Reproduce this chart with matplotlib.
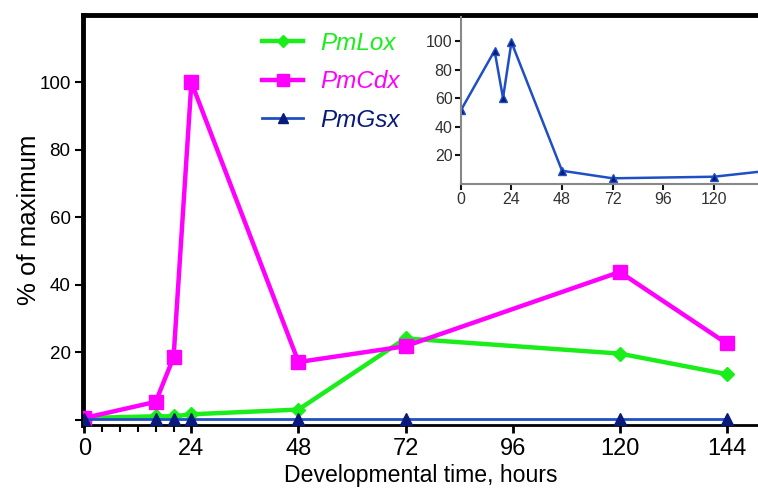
import matplotlib
matplotlib.use("Agg")
import matplotlib.pyplot as plt
from matplotlib.ticker import FixedLocator

plt.rcParams['font.family'] = ['Liberation Sans', 'DejaVu Sans']

hours = [0, 16, 20, 24, 48, 72, 120, 144]
pm_lox = [0.5, 1.0, 1.0, 1.6, 3.0, 24.1, 19.6, 13.5]
pm_cdx = [0.5, 5.3, 18.5, 100.0, 17.1, 21.8, 43.8, 22.6]
pm_gsx = [0.2, 0.2, 0.2, 0.2, 0.2, 0.2, 0.2, 0.2]

inset_hours = [0, 16, 20, 24, 48, 72, 120, 144]
inset_gsx = [51.7, 93.5, 60.3, 99.5, 9.3, 4.0, 5.1, 9.0]

x_ticks = [0, 24, 48, 72, 96, 120, 144]
y_ticks = [0, 20, 40, 60, 80, 100]
y_tick_labels = ['', '20', '40', '60', '80', '100']
inset_x_ticks = [0, 24, 48, 72, 96, 120]
inset_y_ticks = [20, 40, 60, 80, 100]

green = '#1aee1a'
magenta = '#ff00ff'
blue_line = '#1f4fc4'
navy = '#0a1a7a'

fig = plt.figure(figsize=(7.58, 4.92), dpi=100)
ax = fig.add_axes([0.1095, 0.136, 0.8905, 0.8335])

ax.plot(hours, pm_lox, color=green, lw=3.2, marker='D', ms=7.5, mfc=green, mec=green, label='PmLox', zorder=3)
ax.plot(hours, pm_cdx, color=magenta, lw=3.2, marker='s', ms=10, mfc=magenta, mec=magenta, label='PmCdx', zorder=4)
ax.plot(hours, pm_gsx, color=blue_line, lw=2.0, marker='^', ms=8, mfc=navy, mec=navy, label='PmGsx', zorder=5)

ax.set_xlim(-0.3, 151)
ax.set_ylim(-1.6, 120)
ax.set_xticks(x_ticks)
ax.xaxis.set_minor_locator(FixedLocator([4, 8, 12, 16, 20]))
ax.set_yticks(y_ticks)
ax.set_yticklabels(y_tick_labels)
ax.tick_params(axis='x', which='major', labelsize=17, length=6, width=2, direction='out', pad=3)
ax.tick_params(axis='x', which='minor', length=5, width=1.5, direction='out')
ax.tick_params(axis='y', which='major', labelsize=13.5, length=6, width=1.5, direction='out', pad=3)

ax.spines['right'].set_visible(False)
ax.spines['left'].set_linewidth(3.5)
ax.spines['top'].set_linewidth(3.5)
ax.spines['bottom'].set_linewidth(2)
for s in ax.spines.values():
    s.set_color('black')

ax.set_xlabel('Developmental time, hours', fontsize=16.6, labelpad=3)
ax.set_ylabel('% of maximum', fontsize=18.5, labelpad=-1)

leg = ax.legend(loc='upper left', bbox_to_anchor=(0.233, 1.013), frameon=False,
                handlelength=1.7, handletextpad=0.7, labelspacing=0.64,
                prop={'style': 'italic', 'size': 17.5})
for text, col in zip(leg.get_texts(), [green, magenta, navy]):
    text.set_color(col)
for h, ms in zip(leg.legend_handles, [6, 9, 7]):
    h.set_markersize(ms)

ins = fig.add_axes([0.608, 0.626, 0.392, 0.339])
ins.plot(inset_hours, inset_gsx, color=blue_line, lw=1.8, marker='^', ms=6, mfc=navy, mec=blue_line, clip_on=True)
ins.set_xlim(0, 141)
ins.set_ylim(0, 117)
ins.set_xticks(inset_x_ticks)
ins.set_yticks(inset_y_ticks)
ins.tick_params(axis='both', labelsize=11.5, length=4, width=1.5, direction='out', pad=2,
                colors='#111111', labelcolor='#333333')
ins.spines['right'].set_visible(False)
ins.spines['top'].set_visible(False)
for k in ['left', 'bottom']:
    ins.spines[k].set_color('#888888')
    ins.spines[k].set_linewidth(1.5)
ins.patch.set_alpha(0)

fig.savefig('out.png', dpi=100)
